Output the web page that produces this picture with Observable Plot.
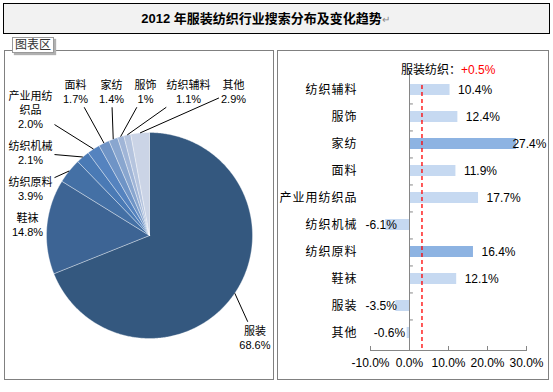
<!DOCTYPE html>
<html><head><meta charset="utf-8">
<script src="https://cdn.jsdelivr.net/npm/d3@7"></script>
<script src="https://cdn.jsdelivr.net/npm/@observablehq/plot@0.6"></script>
<style>
body{margin:0;width:553px;height:392px;position:relative;background:#fff;overflow:hidden;
  font-family:"Liberation Sans","Noto Sans CJK SC",sans-serif;}
#title{position:absolute;left:3px;top:3px;border:1px solid #000;background:#f2f2f2;
  box-sizing:border-box;width:547px;height:31px;text-align:center;line-height:29px;font-size:13px;font-weight:bold;color:#000;padding-right:22px;}
#title .ret{font-weight:normal;color:#888;font-size:10px;}
.panel{position:absolute;top:50px;border:1px solid #808080;width:268px;height:328px;}
#left{left:4px;}
#right{left:277px;width:270px;}
#tag{position:absolute;left:12px;top:37px;font-size:12px;line-height:14px;padding:0 2px;border:1px solid #9a9a9a;background:#fff;color:#333;box-shadow:2px 2px 1px #b0b0b0;z-index:3;}
#reftitle{position:absolute;left:401px;top:60px;font-size:12px;color:#000;white-space:nowrap;z-index:2;}
#reftitle .d{color:#ff0000;}
#right svg g[aria-label="y-axis tick label"] text{letter-spacing:1px;}
</style></head>
<body>
<div id="title">2012 年服装纺织行业搜索分布及变化趋势<span class="ret">↵</span></div>
<div class="panel" id="left"></div>
<div class="panel" id="right"></div>
<div id="tag">图表区</div>
<div id="reftitle"></div>
<script>
// ---- data ----
const pieNames = ["服装","鞋袜","纺织原料","纺织机械","产业用纺织品","面料","家纺","服饰","纺织辅料","其他"];
const pieShares = [68.6,14.8,3.9,2.1,2.0,1.7,1.4,1,1.1,2.9];
const pieShareLabels = ["68.6%","14.8%","3.9%","2.1%","2.0%","1.7%","1.4%","1%","1.1%","2.9%"];
const pieColors = ["#34587f","#3d6494","#4470a5","#4a7ab5","#5583bf","#6f94c6","#89a6cf","#a0b5d7","#b5c4de","#cbd4e6"];

const barCats = ["纺织辅料","服饰","家纺","面料","产业用纺织品","纺织机械","纺织原料","鞋袜","服装","其他"];
const barValues = [10.4,12.4,27.4,11.9,17.7,-6.1,16.4,12.1,-3.5,-0.6];
const barHighlight = ["家纺","纺织原料"];
const xTicks = [-10,0,10,20,30];
const refName = "服装纺织：";
const refText = "+0.5%";
const refValue = 3.2;

document.getElementById("reftitle").innerHTML = refName + '<span class="d">' + refText + '</span>';

const FONT = '"Liberation Sans","Noto Sans CJK SC",sans-serif';

// ---- pie ----
{
  const PW = 268, PH = 328, CX = 144, CY = 184, U = 103;
  const FS = 11, LH = 1.25;
  const pieData = pieNames.map((name,i)=>({name, share: pieShares[i], label: pieShareLabels[i], color: pieColors[i]}));
  const arcs = d3.pie().sort(null).value(d=>d.share)(pieData);
  const marks = [];
  arcs.forEach(a => {
    const pts = [{x:0,y:0}];
    const n = Math.max(2, Math.ceil((a.endAngle - a.startAngle)/0.01));
    for (let k=0;k<=n;k++){ const t = a.startAngle + (a.endAngle-a.startAngle)*k/n; pts.push({x:Math.sin(t), y:-Math.cos(t)}); }
    pts.push({x:0,y:0});
    marks.push(Plot.line(pts, {x:"x", y:"y", fill:a.data.color, stroke:"#ffffff", strokeWidth:0.6, strokeOpacity:0.6, curve:"linear-closed"}));
  });
  const wrap = s => s.length > 4 ? s.slice(0,4) + "\n" + s.slice(4) : s;
  const chW = c => /[\u3000-\u9fff]/.test(c) ? 11 : c==='.' ? 3.1 : c==='%' ? 9.8 : 6.1;
  const lineW = s => [...s].reduce((w,c)=>w+chW(c),0);
  // label layout: rectangle around the pie; big slices at their projected mid-angle,
  // small slices packed in order along the left side then the top row.
  const RL = 122, RT = 144, RB = 102, RR = 200, GX = 10, GY = 8;
  const project = ang => {
    const dx = Math.sin(ang), dy = -Math.cos(ang);
    let t = Infinity;
    if (dx < 0) t = Math.min(t, RL/-dx); if (dx > 0) t = Math.min(t, RR/dx);
    if (dy < 0) t = Math.min(t, RT/-dy); if (dy > 0) t = Math.min(t, RB/dy);
    return [dx*t, dy*t];
  };
  const path = s => s <= RT ? [-RL, -s] : [-RL + (s-RT), -RT];
  const clampBox = b => { b.cx = Math.max(b.hw+3, Math.min(PW-b.hw-3, b.cx)); b.cy = Math.max(b.hh+3, Math.min(PH-b.hh-3, b.cy)); return b; };
  const hit = (b,c) => Math.abs(b.cx-c.cx) < b.hw+c.hw+GX && Math.abs(b.cy-c.cy) < b.hh+c.hh+GY;
  const placed = [];
  const items = arcs.map(a => {
    const text = wrap(a.data.name) + "\n" + a.data.label;
    const lines = text.split("\n");
    return {a, text, mid:(a.startAngle+a.endAngle)/2, hw: Math.max(...lines.map(lineW))/2, hh: lines.length*FS*LH/2};
  });
  items.filter(it => it.a.index < 2).forEach(it => {
    const [rx, ry] = project(it.mid);
    it.box = clampBox({cx: CX+rx, cy: CY+ry, hw: it.hw, hh: it.hh});
    placed.push(it.box);
  });
  let s = 0;
  items.filter(it => it.a.index >= 2).forEach(it => {
    let b;
    for (;; s += 1) {
      const [rx, ry] = path(s);
      b = clampBox({cx: CX+rx, cy: CY+ry, hw: it.hw, hh: it.hh});
      if (!placed.some(c => hit(b,c))) break;
    }
    it.box = b; placed.push(b);
  });
  const labels = [], leaders = [];
  items.forEach(it => {
    const b = it.box;
    labels.push({x:(b.cx-CX)/U, y:(b.cy-CY)/U, text: it.text});
    const ex = CX + U*Math.sin(it.mid), ey = CY - U*Math.cos(it.mid);
    const dx = ex-b.cx, dy = ey-b.cy;
    const t = Math.min(Math.abs(dx) > 0 ? (b.hw+2)/Math.abs(dx) : Infinity, Math.abs(dy) > 0 ? (b.hh+2)/Math.abs(dy) : Infinity);
    if (t < 1 && Math.hypot(dx,dy)*(1-t) > 16) {
      const px = b.cx + dx*t, py = b.cy + dy*t;
      leaders.push({x1:(ex-CX)/U, y1:(ey-CY)/U, x2:(px-CX)/U, y2:(py-CY)/U});
    }
  });
  marks.push(Plot.link(leaders, {x1:"x1", y1:"y1", x2:"x2", y2:"y2", stroke:"#000", strokeWidth:1}));
  marks.push(Plot.text(labels, {x:"x", y:"y", text:"text", fontSize:FS, lineHeight:LH, textAnchor:"middle", lineAnchor:"middle", fill:"#000"}));
  const pie = Plot.plot({
    width: PW, height: PH, margin: 0,
    x: {domain:[-CX/U, (PW-CX)/U], range:[0,PW], axis:null},
    y: {domain:[-CY/U, (PH-CY)/U], range:[0,PH], axis:null},
    style: {fontFamily: FONT, background:"transparent", overflow:"visible"},
    marks
  });
  document.getElementById("left").appendChild(pie);
}

// ---- bars ----
{
  const BW = 270, BH = 328, mL = 92, mR = 22, mT = 20, mB = 29;
  const pxPer = (BW-mL-mR)/40;
  const xpx = v => mL + (v+10)*pxPer;
  const barData = barCats.map((cat,i)=>({cat, value:barValues[i], fill: barHighlight.includes(cat) ? "#8db3e2" : "#c6d9f1"}));
  const labW = s => [...s].reduce((w,c)=> w + (c==='.'?3.3: c==='%'?10.7: c==='-'?4: 6.7), 0);
  const valLabels = barData.map(d => {
    const s = d.value.toFixed(1) + "%";
    const w = labW(s);
    let start = d.value >= 0 ? xpx(d.value)+8 : xpx(d.value)-2-w;
    start = Math.max(mL-5, Math.min(BW-2-w, start));
    return {cat:d.cat, x:(start-mL)/pxPer - 10, text:s};
  });
  const step = (BH-mT-mB)/barCats.length;
  const innerH = BH-mT-mB;
  const chart = Plot.plot({
    width: BW, height: BH, marginLeft: mL, marginRight: mR, marginTop: mT, marginBottom: mB,
    style: {fontFamily: FONT, fontSize: "12px", background:"transparent", overflow:"visible", color:"#000"},
    x: {domain:[-10,30], label: null},
    y: {domain: barCats, paddingInner: 0.6, paddingOuter: 0.3, label: null},
    color: {type:"identity"},
    marks: [
      Plot.barX(barData, {x:"value", y:"cat", fill:"fill"}),
      Plot.ruleX([0], {stroke:"#868686"}),
      Plot.ruleY(barCats.slice(0,-1), {y:d=>d, x1:0, x2:1, dy:step/2, stroke:"#868686"}),
      Plot.frame({anchor:"bottom", stroke:"#868686"}),
      Plot.tickX(xTicks, {x:d=>d, insetTop: innerH-4, stroke:"#868686"}),
      Plot.ruleX([refValue], {stroke:"#ff0000", strokeDasharray:"4,3", strokeWidth:1.3, insetTop: step/2}),
      Plot.text(valLabels, {x:"x", y:"cat", text:"text", textAnchor:"start", fontSize:12, fill:"#000"}),
      Plot.axisX({ticks: xTicks, tickFormat: d => d.toFixed(1) + "%", tickSize: 0, tickPadding: 8, fontSize: 12, label: null}),
      Plot.axisY({tickSize: 0, tickPadding: 13, fontSize: 12, label: null})
    ]
  });
  document.getElementById("right").appendChild(chart);
}
</script>
</body></html>
